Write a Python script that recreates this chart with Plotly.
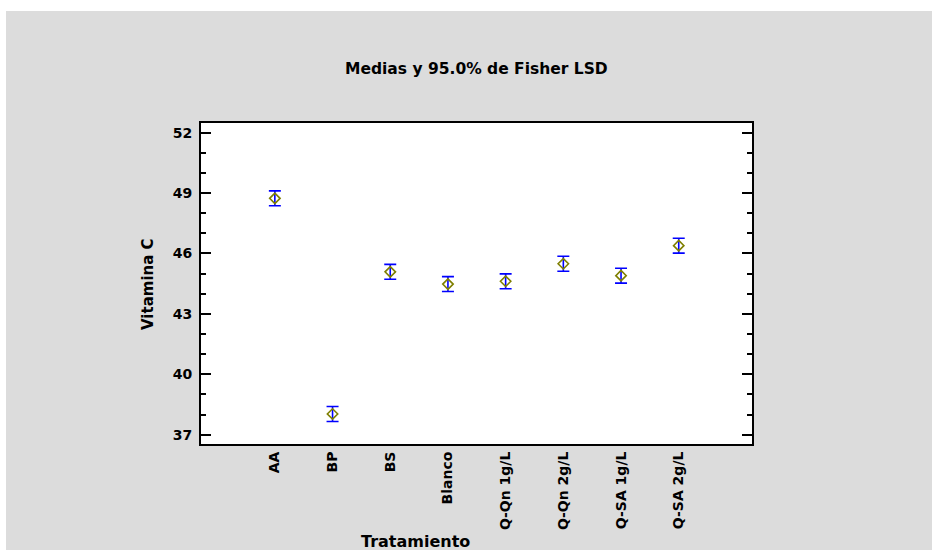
import plotly.graph_objects as go

categories = ["AA", "BP", "BS", "Blanco", "Q-Qn 1g/L", "Q-Qn 2g/L", "Q-SA 1g/L", "Q-SA 2g/L"]
means = [48.74, 38.03, 45.09, 44.48, 44.62, 45.49, 44.90, 46.39]
lsd_half = [0.37] * len(categories)
y_ticks = [37, 40, 43, 46, 49, 52]

FONT = "DejaVu Sans"
W, H = 932, 550
L, R, T, B = 201, 180, 123, 106
pw, ph = W - L - R, H - T - B

def px_x(px):
    return (px - L) / pw

def px_y(py):
    return (H - B - py) / ph

fig = go.Figure()
fig.add_trace(go.Scatter(
    x=categories, y=means, mode="markers",
    marker=dict(symbol="diamond-open", size=8, color="#7f7f00", line=dict(width=1.6, color="#7f7f00")),
    error_y=dict(type="data", array=lsd_half, symmetric=True, color="#0000ff", thickness=1.6, width=6),
    showlegend=False, hoverinfo="skip",
))

fig.update_layout(
    width=W, height=H, autosize=False,
    margin=dict(l=L, r=R, t=T, b=B, pad=0),
    paper_bgcolor="white", plot_bgcolor="white",
    font=dict(family=FONT, color="black"),
    shapes=[
        dict(type="rect", xref="paper", yref="paper", layer="below",
             x0=px_x(6), x1=px_x(W + 5), y0=px_y(H + 5), y1=px_y(11),
             fillcolor="#dcdcdc", line=dict(width=0)),
        dict(type="rect", xref="paper", yref="paper", layer="below",
             x0=0, x1=1, y0=0, y1=1, fillcolor="white", line=dict(width=0)),
    ],
    annotations=[
        dict(text="Medias y 95.0% de Fisher LSD", xref="paper", yref="paper",
             x=0.5, y=px_y(69), xanchor="center", yanchor="middle", showarrow=False,
             font=dict(family=FONT, size=15.5, color="black", weight="bold")),
        dict(text="Tratamiento", xref="paper", yref="paper",
             x=px_x(415), y=px_y(541), xanchor="center", yanchor="middle", showarrow=False,
             font=dict(family=FONT, size=16, color="black", weight="bold")),
        dict(text="Vitamina C", xref="paper", yref="paper", textangle=-90,
             x=px_x(148), y=px_y(284), xanchor="center", yanchor="middle", showarrow=False,
             font=dict(family=FONT, size=15, color="black", weight="bold")),
    ],
)

fig.update_xaxes(
    type="category", range=[-1.28, 8.27], showgrid=False, zeroline=False,
    showline=True, linecolor="black", linewidth=2, mirror=True,
    ticks="", tickangle=-90,
    tickfont=dict(family=FONT, size=14, color="black", weight="bold"),
)
fig.update_yaxes(
    range=[36.54, 52.48], showgrid=False, zeroline=False,
    showline=True, linecolor="black", linewidth=2, mirror="allticks",
    tickmode="array", tickvals=y_ticks, ticktext=[str(v) for v in y_ticks],
    ticks="inside", ticklen=10, tickwidth=2, tickcolor="black", ticklabelstandoff=4,
    minor=dict(ticks="inside", dtick=1, tick0=37, ticklen=5, tickwidth=2, tickcolor="black", showgrid=False),
    tickfont=dict(family=FONT, size=14, color="black", weight="bold"),
)

fig.write_html("out.html", config={"displayModeBar": False},
               post_script="document.body.style.margin='0px';")
